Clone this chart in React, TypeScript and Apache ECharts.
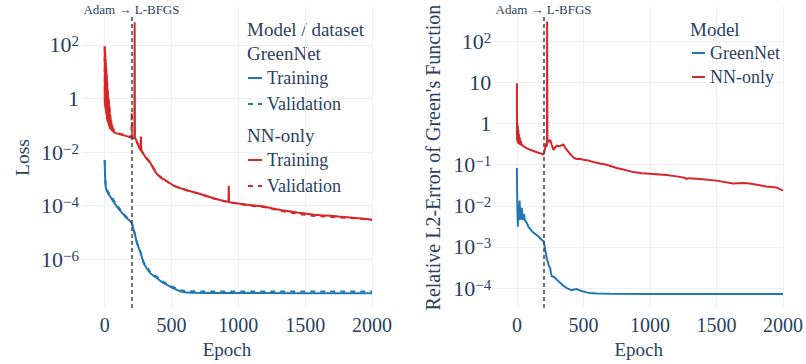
import React, { useEffect, useRef } from 'react';
import * as echarts from 'echarts';

const FONT = "'Liberation Serif', 'Times New Roman', serif";
const TEXT = '#2a3f5f';
const GRID = '#EBF0F8';
const BLUE = '#1f77b4';
const RED = '#d62728';

const switchEpoch = 200;
const epochTicks = [0, 500, 1000, 1500, 2000];
const lossTicks = [1e-6, 1e-4, 1e-2, 1, 100];
const errorTicks = [1e-4, 1e-3, 1e-2, 1e-1, 1, 10, 100];

const greenNetTrainLoss: [number, number][] = [
  [0, 5.1e-3], [2, 1.6e-3], [5, 6.9e-4], [8, 5e-4], [12, 3.9e-4], [20, 3.2e-4], [30, 2.6e-4], [41, 2.2e-4],
  [55, 1.7e-4], [70, 1.3e-4], [91, 9.3e-5], [110, 7e-5], [125, 5.7e-5], [141, 4.6e-5], [160, 3.6e-5],
  [175, 3.1e-5], [191, 2.6e-5], [200, 2.4e-5], [208, 1.8e-5], [216, 1.26e-5], [228, 7.5e-6], [241, 4e-6],
  [255, 2.6e-6], [270, 1.6e-6], [291, 7.1e-7], [315, 4.6e-7], [341, 3.0e-7], [365, 2.4e-7], [391, 2.0e-7],
  [420, 1.5e-7], [445, 1.25e-7], [466, 1.1e-7], [500, 8.8e-8], [541, 7.2e-8], [570, 6.2e-8], [591, 5.9e-8],
  [650, 5.6e-8], [750, 5.5e-8], [1000, 5.45e-8], [1500, 5.4e-8], [2000, 5.4e-8],
];

const greenNetValLoss: [number, number][] = [
  [0, 5.1e-3], [2, 1.8e-3], [5, 7.5e-4], [8, 5.6e-4], [12, 4.5e-4], [20, 3.7e-4], [30, 3.0e-4], [41, 2.6e-4],
  [55, 2.0e-4], [70, 1.5e-4], [91, 1.05e-4], [110, 7.8e-5], [125, 6.3e-5], [141, 5.0e-5], [160, 3.9e-5],
  [175, 3.3e-5], [191, 2.7e-5], [200, 2.5e-5], [208, 1.9e-5], [216, 1.35e-5], [228, 8e-6], [241, 4.3e-6],
  [255, 2.8e-6], [270, 1.75e-6], [291, 7.8e-7], [315, 5.1e-7], [341, 3.3e-7], [365, 2.65e-7], [391, 2.2e-7],
  [420, 1.65e-7], [445, 1.38e-7], [466, 1.2e-7], [500, 9.6e-8], [541, 7.9e-8], [570, 6.9e-8], [600, 6.5e-8],
  [700, 6.3e-8], [1000, 6.2e-8], [2000, 6.2e-8],
];

const nnOnlyTrainLoss: [number, number][] = [
  [0, 90], [1, 0.6], [3, 60], [5, 0.45], [7, 30], [9, 0.35], [11, 15], [13, 0.25], [15, 8], [17, 0.18],
  [19, 4], [21, 0.14], [24, 2], [27, 0.11], [30, 1], [33, 0.09], [36, 0.5], [39, 0.075], [42, 0.25],
  [45, 0.07], [49, 0.15], [53, 0.062], [57, 0.1], [61, 0.058], [66, 0.075], [70, 0.055], [80, 0.052],
  [100, 0.048], [120, 0.045], [150, 0.041], [180, 0.037], [200, 0.034], [215, 0.033], [222, 0.036],
  [224, 700], [226, 0.035], [235, 0.028], [250, 0.0186], [262, 0.013], [268, 0.012], [271, 0.038],
  [274, 0.011], [300, 0.0071], [320, 0.0052], [341, 0.004], [365, 0.0024], [391, 0.0015], [420, 0.0011],
  [454, 8.9e-4], [485, 7.0e-4], [516, 5.6e-4], [566, 4.5e-4], [620, 3.7e-4], [691, 2.95e-4], [750, 2.4e-4],
  [816, 1.9e-4], [870, 1.6e-4], [926, 1.38e-4], [928, 5.5e-4], [931, 1.35e-4], [1000, 1.2e-4],
  [1066, 1.07e-4], [1120, 1.02e-4], [1191, 9.3e-5], [1250, 8.0e-5], [1316, 6.9e-5], [1380, 6.2e-5],
  [1441, 5.5e-5], [1500, 5.1e-5], [1566, 4.6e-5], [1620, 4.4e-5], [1691, 4.2e-5], [1750, 3.9e-5],
  [1816, 3.7e-5], [1900, 3.4e-5], [1960, 3.2e-5], [2000, 2.95e-5],
];

const nnOnlyValLoss: [number, number][] = [
  [0, 85], [1, 0.7], [3, 55], [5, 0.5], [7, 25], [9, 0.38], [11, 12], [13, 0.27], [15, 6], [17, 0.2],
  [19, 3], [21, 0.15], [24, 1.5], [27, 0.12], [30, 0.8], [33, 0.095], [36, 0.4], [39, 0.08], [42, 0.2],
  [45, 0.072], [49, 0.12], [53, 0.064], [57, 0.085], [61, 0.06], [70, 0.057], [80, 0.054], [100, 0.05],
  [120, 0.047], [150, 0.043], [180, 0.039], [200, 0.036], [202, 0.32], [204, 0.036], [215, 0.034],
  [235, 0.029], [250, 0.019], [270, 0.0125], [300, 0.0072], [341, 0.0041], [391, 0.0015], [454, 8.8e-4],
  [516, 5.5e-4], [566, 4.4e-4], [691, 2.9e-4], [816, 1.85e-4], [926, 1.33e-4], [1000, 1.18e-4],
  [1066, 1.04e-4], [1191, 8.9e-5], [1316, 6.4e-5], [1441, 5.0e-5], [1566, 4.1e-5], [1691, 3.8e-5],
  [1816, 3.5e-5], [1900, 3.3e-5], [2000, 2.9e-5],
];

const greenNetError: [number, number][] = [
  [0, 0.083], [3, 0.01], [7, 0.0031], [10, 0.006], [14, 0.0045], [20, 0.0135], [25, 0.006], [30, 0.0046],
  [34, 0.0072], [37, 0.0089], [41, 0.005], [45, 0.0046], [50, 0.0062], [55, 0.006], [58, 0.0046],
  [62, 0.0045], [75, 0.0038], [87, 0.0031], [105, 0.0026], [125, 0.0022], [145, 0.002], [162, 0.0018],
  [185, 0.0015], [200, 0.00138], [205, 0.0012], [212, 0.00085], [218, 0.0007], [225, 0.00049],
  [232, 0.00045], [237, 0.00037], [245, 0.00033], [250, 0.00031], [255, 0.00024], [262, 0.000195],
  [275, 0.00019], [287, 0.000178], [300, 0.00016], [325, 0.000135], [350, 0.000113], [375, 0.0001],
  [400, 0.000092], [412, 0.000089], [430, 0.000093], [450, 0.000095], [475, 0.000088], [500, 0.000083],
  [525, 0.000079], [550, 0.000076], [600, 0.000074], [700, 0.0000728], [1000, 0.0000724], [2000, 0.0000722],
];

const nnOnlyError: [number, number][] = [
  [0, 9.5], [1, 0.4], [3, 1.0], [5, 0.35], [7, 0.9], [9, 0.33], [11, 0.7], [13, 0.32], [16, 0.55],
  [19, 0.31], [22, 0.45], [26, 0.3], [30, 0.38], [35, 0.29], [40, 0.31], [50, 0.28], [75, 0.25],
  [100, 0.23], [125, 0.215], [150, 0.2], [175, 0.19], [198, 0.175], [205, 0.2], [212, 0.25], [218, 0.33],
  [222, 0.27], [226, 0.3], [227, 300], [229, 0.42], [235, 0.35], [245, 0.38], [250, 0.4], [262, 0.3],
  [275, 0.23], [290, 0.27], [300, 0.29], [320, 0.28], [338, 0.3], [350, 0.31], [362, 0.26], [375, 0.23],
  [395, 0.19], [412, 0.166], [430, 0.145], [450, 0.138], [475, 0.14], [500, 0.132], [525, 0.129],
  [575, 0.116], [625, 0.107], [675, 0.1], [750, 0.083], [800, 0.076], [875, 0.066], [940, 0.062],
  [1000, 0.06], [1125, 0.056], [1200, 0.052], [1260, 0.048], [1275, 0.045], [1290, 0.047], [1375, 0.045],
  [1500, 0.041], [1625, 0.035], [1700, 0.036], [1750, 0.035], [1875, 0.0295], [1950, 0.028], [2000, 0.0234],
];

// axis ranges (log10 exponents)
const lossRange = [-7.825, 3.416];
const errorRange = [-4.485, 2.832];
const lossMarkTop = 3.043;
const errorMarkTop = 2.589;

function logLabel(v: number, tenPlain: boolean) {
  const e = Math.round(Math.log10(v));
  if (e === 0) return '{b|1}';
  if (e === 1 && tenPlain) return '{b|10}';
  return '{b|10}{s|' + (e < 0 ? '\u2212' + -e : String(e)) + '}';
}

const rich = {
  b: { fontSize: 22, fontFamily: FONT, color: TEXT, lineHeight: 26 },
  s: { fontSize: 15, fontFamily: FONT, color: TEXT, lineHeight: 18, verticalAlign: 'top', padding: [2, 0, 0, 0] },
};

function xAxis(gridIndex: number) {
  return {
    type: 'value', gridIndex, min: -170, max: 2000,
    axisLine: { show: false },
    axisTick: { show: false, customValues: epochTicks },
    axisLabel: {
      customValues: epochTicks, fontSize: 20, fontFamily: FONT, color: TEXT, margin: 7,
      formatter: (v: number) => String(v),
    },
    splitLine: { show: true, lineStyle: { color: GRID, width: 1 } },
    name: 'Epoch', nameLocation: 'middle', nameGap: 30,
    nameTextStyle: { fontSize: 19, fontFamily: FONT, color: TEXT },
  };
}

function yAxis(gridIndex: number, range: number[], ticks: number[], name: string, nameGap: number, tenPlain: boolean, nameSize: number) {
  return {
    type: 'log', logBase: 10, gridIndex,
    min: Math.pow(10, range[0]), max: Math.pow(10, range[1]),
    axisLine: { show: false },
    axisTick: { show: false, customValues: ticks },
    axisLabel: { customValues: ticks, margin: 3, formatter: (v: number) => logLabel(v, tenPlain), rich },
    splitLine: { show: true, lineStyle: { color: GRID, width: 1 } },
    name, nameLocation: 'middle', nameGap,
    nameTextStyle: { fontSize: nameSize, fontFamily: FONT, color: TEXT },
  };
}

function switchLine(top: number, bottom: number) {
  return {
    silent: true, symbol: ['none', 'none'], animation: false,
    lineStyle: { color: '#444', type: [4, 3], width: 1.5 },
    emphasis: { disabled: true },
    label: { show: true, position: 'end', formatter: 'Adam \u2192 L-BFGS', fontSize: 13, fontFamily: FONT, color: TEXT, distance: 1 },
    data: [[{ coord: [switchEpoch, Math.pow(10, bottom)] }, { coord: [switchEpoch, Math.pow(10, top)] }]],
  };
}

function line(name: string, data: [number, number][], color: string, dashed: boolean, axis: number, extra: any = {}) {
  return {
    type: 'line', name, data, xAxisIndex: axis, yAxisIndex: axis,
    showSymbol: false, symbol: 'none',
    lineStyle: { color, width: 2, type: dashed ? [5, 5] : 'solid' },
    itemStyle: { color },
    emphasis: { disabled: true },
    ...extra,
  };
}

const legendCommon = {
  orient: 'vertical', padding: 0, itemWidth: 14, itemHeight: 2, selectedMode: false,
  itemStyle: { opacity: 0 },
  textStyle: { fontSize: 18, fontFamily: FONT, color: TEXT, lineHeight: 20 },
};

export default function App() {
  const ref = useRef<HTMLDivElement>(null);
  useEffect(() => {
    if (!ref.current) return;
    const chart = echarts.init(ref.current, undefined, { renderer: 'svg' });
    chart.setOption({
      animation: false,
      backgroundColor: '#ffffff',
      grid: [
        { left: 82, top: 7, width: 290, height: 301.7 },
        { left: 494.3, top: 7, width: 290.2, height: 301.7 },
      ],
      xAxis: [xAxis(0), xAxis(1)],
      yAxis: [
        yAxis(0, lossRange, lossTicks, 'Loss', 50, false, 19.5),
        yAxis(1, errorRange, errorTicks, "Relative L2-Error of Green's Function", 51, true, 20),
      ],
      legend: [
        { ...legendCommon, left: 247, top: 68, itemGap: 6, data: ['GreenNet Training', 'GreenNet Validation'], formatter: (n: string) => n.split(' ')[1] },
        { ...legendCommon, left: 247, top: 150, itemGap: 6, data: ['NN-only Training', 'NN-only Validation'], formatter: (n: string) => n.split(' ')[1] },
        { ...legendCommon, left: 691, top: 43, itemGap: 4, itemWidth: 13, data: ['GreenNet', 'NN-only'] },
      ],
      graphic: [
        { type: 'text', x: 247, y: 29, silent: true, style: { text: 'Model / dataset', fontSize: 19, fontFamily: FONT, fill: TEXT, verticalAlign: 'middle' } },
        { type: 'text', x: 247, y: 53, silent: true, style: { text: 'GreenNet', fontSize: 19, fontFamily: FONT, fill: TEXT, verticalAlign: 'middle' } },
        { type: 'text', x: 247, y: 135, silent: true, style: { text: 'NN-only', fontSize: 19, fontFamily: FONT, fill: TEXT, verticalAlign: 'middle' } },
        { type: 'text', x: 690, y: 29, silent: true, style: { text: 'Model', fontSize: 19, fontFamily: FONT, fill: TEXT, verticalAlign: 'middle' } },
      ],
      series: [
        line('GreenNet Training', greenNetTrainLoss, BLUE, false, 0),
        line('GreenNet Validation', greenNetValLoss, BLUE, true, 0),
        line('NN-only Training', nnOnlyTrainLoss, RED, false, 0, { markLine: switchLine(lossMarkTop, lossRange[0]) }),
        line('NN-only Validation', nnOnlyValLoss, RED, true, 0),
        line('GreenNet', greenNetError, BLUE, false, 1),
        line('NN-only', nnOnlyError, RED, false, 1, { markLine: switchLine(errorMarkTop, errorRange[0]) }),
      ],
    });
    return () => chart.dispose();
  }, []);
  return <div ref={ref} style={{ position: 'fixed', left: 0, top: 0, width: 806, height: 364 }} />;
}
